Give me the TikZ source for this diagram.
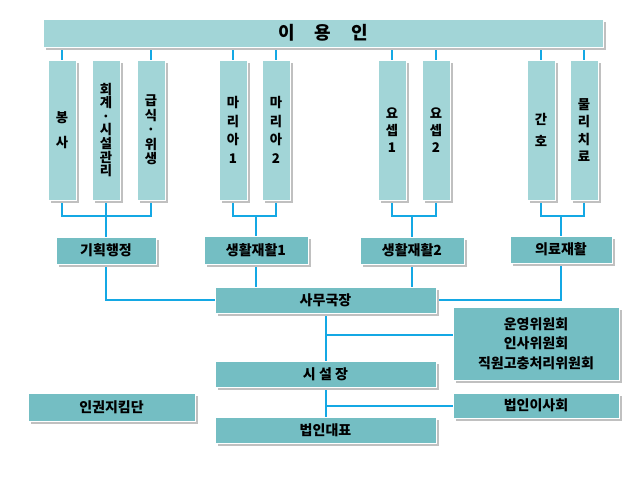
\documentclass[tikz,border=0pt]{standalone}
\usepackage{fontspec}
\setmainfont{Noto Sans CJK KR}
\usetikzlibrary{shadows}
\definecolor{lightteal}{RGB}{162,213,215}
\definecolor{darkteal}{RGB}{116,190,195}
\definecolor{conn}{RGB}{20,168,228}
\definecolor{shadowgray}{RGB}{192,192,192}
\pgfdeclarelayer{bg}
\pgfdeclarelayer{paper}
\pgfsetlayers{paper,bg,main}
\begin{document}
\begin{tikzpicture}[x=0.75pt,y=-0.75pt,
  box/.style={draw=white, line width=0.6pt, inner sep=0pt, align=center,
    general shadow={fill=shadowgray, shadow xshift=2.25pt, shadow yshift=-2.25pt},
    font=\bfseries\fontsize{10.5}{14.6}\selectfont},
  lbox/.style={box, fill=lightteal},
  dbox/.style={box, fill=darkteal},
  vbox/.style={lbox, minimum width=21pt, minimum height=105pt},
  wbox/.style={dbox, minimum width=165.75pt, minimum height=19.5pt},
  link/.style={draw=conn, line width=1.5pt}]
\useasboundingbox (0,0) rectangle (640,480);
\begin{pgfonlayer}{paper}
\fill[white] (0,0) rectangle (640,480);
\end{pgfonlayer}
% top bar
\node[lbox, minimum width=420pt, minimum height=21pt, font=\bfseries\fontsize{13.5}{15}\selectfont] (top) at (323,33) {이\hspace{1.1em}용\hspace{1.1em}인};
% vertical boxes
\node[vbox, font=\bfseries\fontsize{10}{18.75}\selectfont] (v1) at (62,130) {봉\\사};
\node[vbox, font=\bfseries\fontsize{10}{10.2}\selectfont] (v2) at (106,130) {회\\계\\·\\시\\설\\관\\리};
\node[vbox, font=\bfseries\fontsize{10}{10.8}\selectfont] (v3) at (151,130) {급\\식\\·\\위\\생};
\node[vbox, font=\bfseries\fontsize{10}{14}\selectfont] (m1) at (233,130) {마\\리\\아\\1};
\node[vbox, font=\bfseries\fontsize{10}{14}\selectfont] (m2) at (276,130) {마\\리\\아\\2};
\node[vbox, font=\bfseries\fontsize{10}{12.8}\selectfont] (y1) at (392,130) {요\\셉\\1};
\node[vbox, font=\bfseries\fontsize{10}{12.8}\selectfont] (y2) at (436,130) {요\\셉\\2};
\node[vbox, font=\bfseries\fontsize{10}{16.5}\selectfont] (k1) at (541,130) {간\\호};
\node[vbox, font=\bfseries\fontsize{10}{13.2}\selectfont] (k2) at (584,130) {물\\리\\치\\료};
% second row
\node[dbox, minimum width=75pt, minimum height=20.25pt] (gh) at (106,250.5) {기획행정};
\node[dbox, minimum width=78pt, minimum height=21pt] (s1) at (256,250) {생활재활1};
\node[dbox, minimum width=78pt, minimum height=20.25pt] (s2) at (412,250.5) {생활재활2};
\node[dbox, minimum width=76.5pt, minimum height=20.25pt] (ui) at (561,249.5) {의료재활};
% centre column
\node[wbox] (samu) at (325.5,300) {사무국장};
\node[wbox] (siseol) at (325.5,374) {시 설 장};
\node[wbox] (daepyo) at (325.5,430) {법인대표};
% right boxes
\node[dbox, minimum width=124.5pt, minimum height=54.75pt] (wy) at (536,343.5) {운영위원회\\인사위원회\\직원고충처리위원회};
\node[dbox, minimum width=124.5pt, minimum height=18.75pt] (bi) at (536,405.5) {법인이사회};
% left box
\node[dbox, minimum width=125.25pt, minimum height=21pt] (ig) at (111.5,407) {인권지킴단};
% bracket points
\coordinate (b1) at (106,216);
\coordinate (b2) at (256,216);
\coordinate (b3) at (412,216);
\coordinate (b4) at (561,216);
\coordinate (j1) at (325.5,335);
\coordinate (j2) at (325.5,406);
\begin{pgfonlayer}{bg}
\foreach \n in {v1,v3,m1,m2,y1,y2,k1,k2}
  \draw[link] (\n.north) -- (\n.north |- top.south);
\draw[link] (v1.south) |- (b1) -| (v3.south);
\draw[link] (v2.south) -- (gh.north);
\draw[link] (m1.south) |- (b2) -| (m2.south);
\draw[link] (b2) -- (s1.north);
\draw[link] (y1.south) |- (b3) -| (y2.south);
\draw[link] (b3) -- (s2.north);
\draw[link] (k1.south) |- (b4) -| (k2.south);
\draw[link] (b4) -- (ui.north);
\draw[link] (gh.south) |- (samu.west);
\draw[link] (ui.south) |- (samu.east);
\draw[link] (s1.south) -- (s1.south |- samu.north);
\draw[link] (s2.south) -- (s2.south |- samu.north);
\draw[link] (samu.south) -- (siseol.north);
\draw[link] (j1) -- (j1 -| wy.west);
\draw[link] (siseol.south) -- (daepyo.north);
\draw[link] (j2) -- (j2 -| bi.west);
\end{pgfonlayer}
\end{tikzpicture}
\end{document}
